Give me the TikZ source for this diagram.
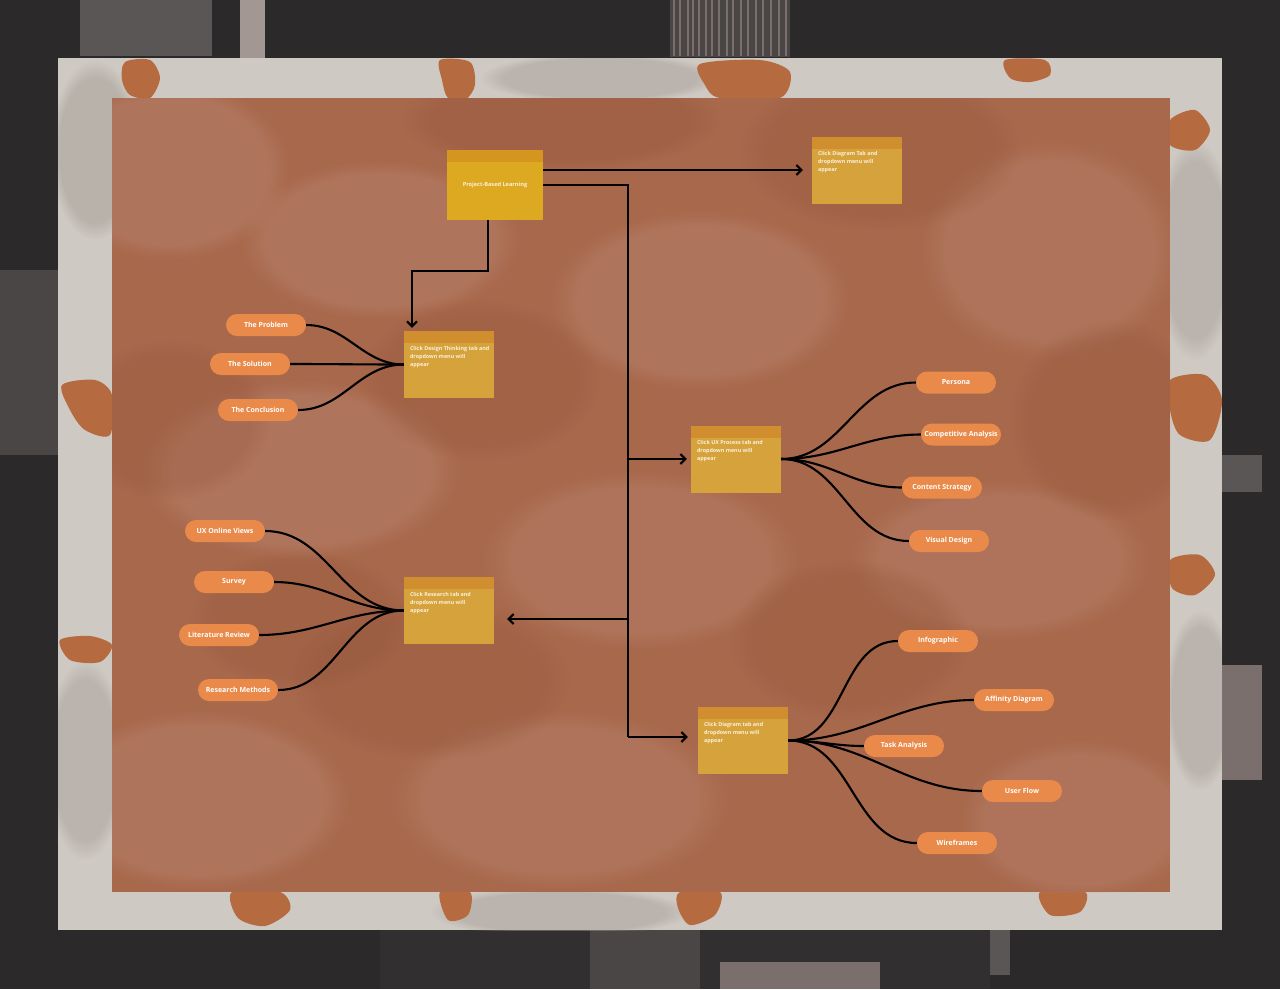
\documentclass[tikz,border=0pt]{standalone}
\usepackage{fontspec}
\newfontfamily\uifont{Open Sans}
\usetikzlibrary{arrows.meta,fadings}
\definecolor{darkbg}{HTML}{2B2929}
\definecolor{tex1}{HTML}{4A4646}
\definecolor{tex2}{HTML}{A39794}
\definecolor{tex3}{HTML}{5A5656}
\definecolor{tex4}{HTML}{7A6F6D}
\definecolor{marble}{HTML}{CFC9C3}
\definecolor{marbledk}{HTML}{A39C95}
\definecolor{rust}{HTML}{B66A40}
\definecolor{brownc}{HTML}{A8684C}
\definecolor{brownlt}{HTML}{C29684}
\definecolor{browndk}{HTML}{93553B}
\definecolor{pillc}{HTML}{E98A4B}
\definecolor{boxc}{HTML}{D6A23C}
\definecolor{headc}{HTML}{D18E2E}
\definecolor{pblc}{HTML}{DCA920}
\definecolor{pblh}{HTML}{D4961E}
\definecolor{boxtxt}{HTML}{FBF0DC}
\begin{document}
\begin{tikzpicture}[x=1pt,y=-1pt,
  taskbox/.style={minimum width=90pt, minimum height=67pt, inner sep=0pt, fill=boxc,
    path picture={\fill[headc] (path picture bounding box.north west) rectangle ([yshift=-12pt]path picture bounding box.north east);}},
  pblbox/.style={minimum width=96pt, minimum height=70pt, inner sep=0pt, fill=pblc,
    path picture={\fill[pblh] (path picture bounding box.north west) rectangle ([yshift=-12pt]path picture bounding box.north east);}},
  boxtext/.style={font=\uifont\bfseries\fontsize{5.4}{8}\selectfont, text=boxtxt, align=left, inner sep=0pt, anchor=north west},
  pill/.style={fill=pillc, rounded corners=11pt, minimum width=80pt, minimum height=22pt, inner sep=0pt,
    font=\uifont\bfseries\fontsize{7}{8}\selectfont, text=white},
  link/.style={draw=black, line width=2.1pt},
  arr/.style={draw=black, line width=2.1pt, -{Straight Barb[length=5pt,width=10pt]}},
  blob/.style={path fading=circle with fuzzy edge 20 percent}
]
\useasboundingbox (0,0) rectangle (1280,989);
% ---- dark surround ----
\fill[darkbg] (0,0) rectangle (1280,989);
\fill[tex3] (80,0) rectangle (212,56);
\fill[tex2] (240,0) rectangle (265,58);
\fill[tex1] (670,0) rectangle (790,57);
\foreach \xx in {674,680,688,693,699,706,712,719,727,733,741,748,756,763,771,779,786}
  \draw[tex4, line width=1.2pt] (\xx,0) -- (\xx,56);
\fill[tex1] (0,270) rectangle (58,455);
\fill[tex3] (1222,455) rectangle (1262,492);
\fill[tex4] (1222,665) rectangle (1262,780);
\fill[darkbg!80!tex1] (380,930) rectangle (990,989);
\fill[tex1] (590,930) rectangle (700,989);
\fill[tex4] (720,962) rectangle (880,989);
\fill[tex3] (990,930) rectangle (1010,975);
% ---- marble frame ----
\fill[marble] (58,58) rectangle (1222,930);
\begin{scope}
\clip (58,58) rectangle (1222,930);
\fill[marbledk, blob, opacity=0.5] (95,150) ellipse (45 and 90);
\fill[marbledk, blob, opacity=0.45] (1195,250) ellipse (40 and 110);
\fill[marbledk, blob, opacity=0.45] (85,760) ellipse (40 and 100);
\fill[marbledk, blob, opacity=0.45] (1200,700) ellipse (35 and 90);
\fill[marbledk, blob, opacity=0.45] (600,78) ellipse (120 and 25);
\fill[marbledk, blob, opacity=0.45] (560,912) ellipse (130 and 25);
\end{scope}
% rust patches
\fill[rust] plot[smooth cycle] coordinates {(125,62) (150,60) (160,78) (150,98) (130,95) (122,80)};
\fill[rust] plot[smooth cycle] coordinates {(440,60) (470,62) (475,85) (465,100) (448,98) (442,80)};
\fill[rust] plot[smooth cycle] coordinates {(700,64) (760,60) (790,72) (780,98) (720,98) (705,85)};
\fill[rust] plot[smooth cycle] coordinates {(1005,60) (1045,60) (1050,75) (1030,82) (1010,78)};
\fill[rust] plot[smooth cycle] coordinates {(1170,120) (1195,110) (1210,130) (1195,150) (1170,145)};
\fill[rust] plot[smooth cycle] coordinates {(1170,380) (1205,375) (1222,400) (1210,440) (1180,435) (1170,410)};
\fill[rust] plot[smooth cycle] coordinates {(62,385) (95,380) (112,395) (110,435) (85,430) (70,410)};
\fill[rust] plot[smooth cycle] coordinates {(60,640) (90,636) (112,645) (100,662) (70,660)};
\fill[rust] plot[smooth cycle] coordinates {(232,892) (280,892) (290,910) (265,926) (238,918)};
\fill[rust] plot[smooth cycle] coordinates {(440,892) (470,892) (468,915) (448,920)};
\fill[rust] plot[smooth cycle] coordinates {(680,892) (720,892) (715,915) (690,925) (678,908)};
\fill[rust] plot[smooth cycle] coordinates {(1040,892) (1085,892) (1080,912) (1050,915)};
\fill[rust] plot[smooth cycle] coordinates {(1170,560) (1200,555) (1215,575) (1195,595) (1172,588)};
% ---- brown board ----
\fill[brownc] (112,98) rectangle (1170,892);
\begin{scope}
\clip (112,98) rectangle (1170,892);
\fill[brownlt, blob, opacity=0.3] (170,170) ellipse (120 and 90);
\fill[brownlt, blob, opacity=0.3] (380,240) ellipse (140 and 80);
\fill[brownlt, blob, opacity=0.3] (700,300) ellipse (150 and 90);
\fill[brownlt, blob, opacity=0.25] (1050,250) ellipse (130 and 110);
\fill[brownlt, blob, opacity=0.3] (300,470) ellipse (160 and 90);
\fill[brownlt, blob, opacity=0.25] (640,560) ellipse (160 and 90);
\fill[brownlt, blob, opacity=0.25] (1000,560) ellipse (150 and 80);
\fill[brownlt, blob, opacity=0.3] (200,800) ellipse (150 and 90);
\fill[brownlt, blob, opacity=0.25] (560,800) ellipse (170 and 90);
\fill[brownlt, blob, opacity=0.25] (1080,820) ellipse (120 and 80);
\fill[browndk, blob, opacity=0.35] (560,120) ellipse (160 and 50);
\fill[browndk, blob, opacity=0.3] (170,420) ellipse (100 and 80);
\fill[browndk, blob, opacity=0.3] (880,150) ellipse (140 and 80);
\fill[browndk, blob, opacity=0.3] (480,380) ellipse (120 and 80);
\fill[browndk, blob, opacity=0.3] (1110,420) ellipse (100 and 100);
\fill[browndk, blob, opacity=0.3] (430,680) ellipse (140 and 80);
\fill[browndk, blob, opacity=0.3] (850,640) ellipse (120 and 80);
\fill[browndk, blob, opacity=0.3] (300,620) ellipse (110 and 70);
\end{scope}
% ---- boxes ----
\node[pblbox] (pbl) at (495,185) {};
\node[font=\uifont\bfseries\fontsize{5.6}{7}\selectfont, text=boxtxt, inner sep=0pt] (pblt) at (pbl.center) {Project-Based Learning};
\node[taskbox] (tr) at (857,170) {};
\node[boxtext] (trt) at ([xshift=6pt,yshift=-15pt]tr.north west) {Click Diagram Tab and\\dropdown menu will\\appear};
\node[taskbox] (dt) at (449,364.5) {};
\node[boxtext] (dtt) at ([xshift=6pt,yshift=-15pt]dt.north west) {Click Design Thinking tab and\\dropdown menu will\\appear};
\node[taskbox] (ux) at (736,459) {};
\node[boxtext] (uxt) at ([xshift=6pt,yshift=-15pt]ux.north west) {Click UX Process tab and\\dropdown menu will\\appear};
\node[taskbox] (rs) at (449,610.5) {};
\node[boxtext] (rst) at ([xshift=6pt,yshift=-15pt]rs.north west) {Click Research tab and\\dropdown menu will\\appear};
\node[taskbox] (dg) at (743,740.5) {};
\node[boxtext] (dgt) at ([xshift=6pt,yshift=-15pt]dg.north west) {Click Diagram tab and\\dropdown menu will\\appear};
% ---- pills ----
\node[pill] (problem) at (266,325) {The Problem};
\node[pill] (solution) at (250,364) {The Solution};
\node[pill] (conclusion) at (258,410) {The Conclusion};
\node[pill] (online) at (225,531) {UX Online Views};
\node[pill] (survey) at (234,582) {Survey};
\node[pill] (litrev) at (219,635) {Literature Review};
\node[pill] (methods) at (238,690) {Research Methods};
\node[pill] (persona) at (956,382.5) {Persona};
\node[pill] (compet) at (961,434.5) {Competitive Analysis};
\node[pill] (content) at (942,487.5) {Content Strategy};
\node[pill] (visual) at (949,541) {Visual Design};
\node[pill] (infog) at (938,641) {Infographic};
\node[pill] (affin) at (1014,700) {Affinity Diagram};
\node[pill] (task) at (904,746) {Task Analysis};
\node[pill] (flow) at (1022,791) {User Flow};
\node[pill] (wire) at (957,843) {Wireframes};
% ---- trunk connectors ----
\coordinate (trunk) at (628,185);
\coordinate (dgin) at ([yshift=3.5pt]dg.west);
\coordinate (rsin) at ([yshift=-8.5pt]rs.east);
\coordinate (elb) at (412,271);
\draw[arr, shorten >=9pt] (pbl.east |- tr.west) -- (tr.west);
\draw[link] (pbl.east) -- (trunk) -- (trunk |- dgin);
\draw[arr, shorten >=4pt] (trunk |- ux.west) -- (ux.west);
\draw[arr, shorten >=10pt] (trunk |- dgin) -- (dgin);
\draw[arr, shorten >=13pt] (trunk |- rsin) -- (rsin);
\draw[arr, shorten >=3pt] ([xshift=-7pt]pbl.south) |- (elb) -- (elb |- dt.north);
% ---- branch curves ----
\foreach \p in {problem,solution,conclusion}
  \draw[link] (\p.east) to[out=0,in=180] (dt.west);
\foreach \p in {online,survey,litrev,methods}
  \draw[link] (\p.east) to[out=0,in=180] (rs.west);
\foreach \p in {persona,compet,content,visual}
  \draw[link] (ux.east) to[out=0,in=180] (\p.west);
\foreach \p in {infog,affin,task,flow,wire}
  \draw[link] (dg.east) to[out=0,in=180] (\p.west);
\end{tikzpicture}
\end{document}
